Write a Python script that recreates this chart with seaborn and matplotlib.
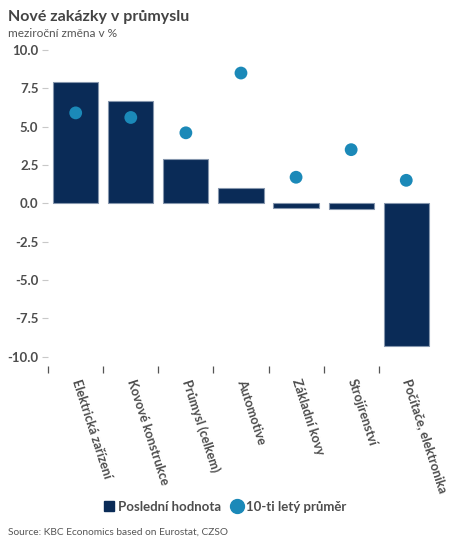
import pandas as pd
import matplotlib
matplotlib.use("Agg")
import matplotlib.pyplot as plt
import seaborn as sns
from matplotlib.lines import Line2D
from matplotlib.ticker import FixedLocator

categories = ["Elektrická zařízení", "Kovové konstrukce", "Průmysl (celkem)", "Automotive",
              "Základní kovy", "Strojírenství", "Počítače, elektronika"]
latest = [7.9, 6.7, 2.9, 1.0, -0.3, -0.4, -9.3]
avg_10y = [5.9, 5.6, 4.6, 8.5, 1.7, 3.5, 1.5]
yticks = [-10.0, -7.5, -5.0, -2.5, 0.0, 2.5, 5.0, 7.5, 10.0]

navy = "#0a2b57"
teal = "#1b89b8"
grey = "#4d4d4d"

df = pd.DataFrame({"kategorie": categories, "posledni": latest, "prumer": avg_10y})

sns.set_style("white")
plt.rcParams["font.family"] = ["Lato", "DejaVu Sans"]

fig = plt.figure(figsize=(4.5, 5.5), dpi=100)
ax = fig.add_axes([0.107, 0.335, 0.857, 0.574])

sns.barplot(data=df, x="kategorie", y="posledni", color=navy, width=0.82,
            edgecolor="#8596ad", linewidth=0.8, saturation=1, ax=ax)
sns.scatterplot(data=df, x="kategorie", y="prumer", color=teal, s=85,
                edgecolor="none", zorder=3, ax=ax)

ax.set_xlim(-0.5, 6.5)
ax.set_ylim(-10.6, 10.0)
ax.set_yticks(yticks)
ax.set_yticklabels([f"{v:.1f}" for v in yticks])
ax.set_xlabel("")
ax.set_ylabel("")
for s in ax.spines.values():
    s.set_visible(False)

ax.tick_params(axis="y", length=4, width=0.8, color="#c8c8c8", pad=3,
               labelsize=9.5, labelcolor=grey, left=True)
for lab in ax.get_yticklabels():
    lab.set_fontweight("bold")

ax.set_xticks(range(len(categories)))
ax.set_xticklabels(categories, rotation=-72, ha="left", va="center",
                   rotation_mode="anchor", fontsize=9.2, color=grey, fontweight="bold")
ax.tick_params(axis="x", which="major", length=0, pad=10)
ax.xaxis.set_minor_locator(FixedLocator([i - 0.5 for i in range(len(categories))]))
ax.tick_params(axis="x", which="minor", length=5, width=0.9, color="#555555", bottom=True)

fig.text(0.018, 0.962, "Nové zakázky v průmyslu", fontsize=11.5, fontweight="bold", color="#444444")
fig.text(0.018, 0.933, "meziroční změna v %", fontsize=8.6, color="#555555")
fig.text(0.018, 0.028, "Source: KBC Economics based on Eurostat, CZSO", fontsize=7.3, color="#555555")

handles = [Line2D([], [], marker="s", linestyle="none", color=navy, markersize=6.5),
           Line2D([], [], marker="o", linestyle="none", color=teal, markersize=10)]
leg = fig.legend(handles, ["Poslední hodnota", "10-ti letý průměr"], loc="center",
                 bbox_to_anchor=(0.5, 0.078), ncol=2, frameon=False, handlelength=0.8,
                 handletextpad=0.3, columnspacing=0.8,
                 prop={"weight": "bold", "size": 9.5})
for t in leg.get_texts():
    t.set_color(grey)

fig.savefig("out.png", dpi=100)
